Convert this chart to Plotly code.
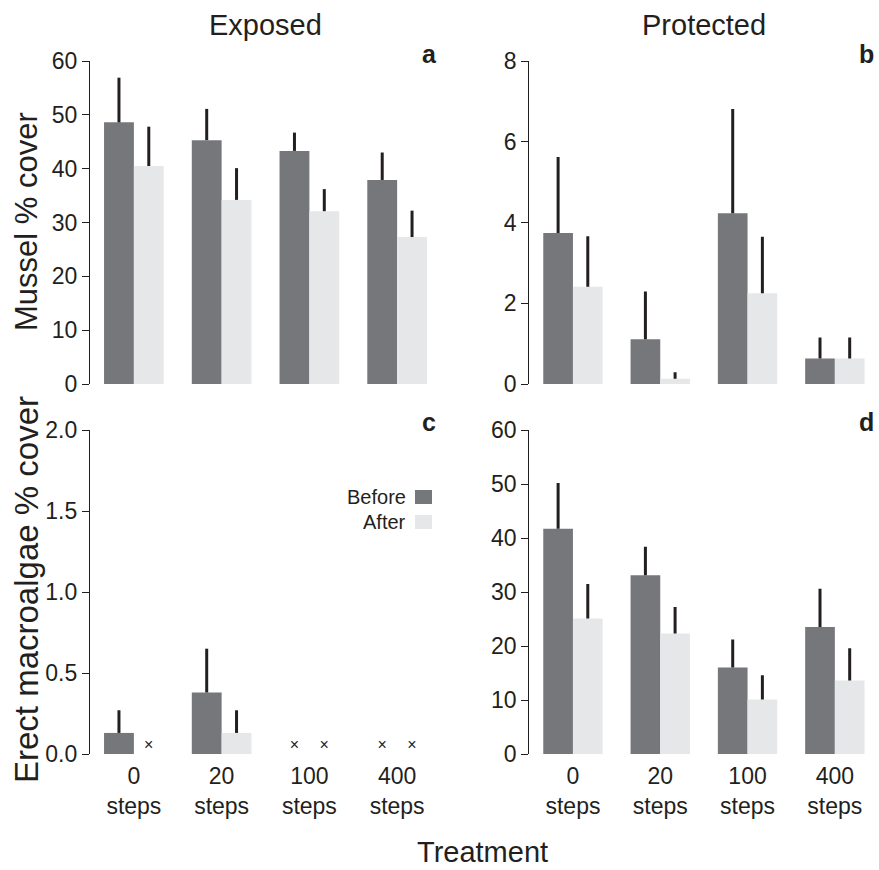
import plotly.graph_objects as go

# ---------------- data ----------------
treatments = ["0<br>steps", "20<br>steps", "100<br>steps", "400<br>steps"]
series_names = ["Before", "After"]

# Panel a: Mussel % cover, Exposed
mussel_exp_before = [48.6, 45.3, 43.3, 37.9]
mussel_exp_before_se = [8.3, 5.8, 3.4, 5.1]
mussel_exp_after = [40.5, 34.2, 32.1, 27.3]
mussel_exp_after_se = [7.3, 5.9, 4.1, 4.9]

# Panel b: Mussel % cover, Protected
mussel_pro_before = [3.74, 1.11, 4.23, 0.63]
mussel_pro_before_se = [1.88, 1.18, 2.58, 0.52]
mussel_pro_after = [2.41, 0.13, 2.25, 0.63]
mussel_pro_after_se = [1.25, 0.16, 1.40, 0.52]

# Panel c: Erect macroalgae % cover, Exposed (None = absent, shown as x)
algae_exp_before = [0.13, 0.38, None, None]
algae_exp_before_se = [0.14, 0.27, None, None]
algae_exp_after = [None, 0.13, None, None]
algae_exp_after_se = [None, 0.14, None, None]

# Panel d: Erect macroalgae % cover, Protected
algae_pro_before = [41.7, 33.1, 16.0, 23.5]
algae_pro_before_se = [8.5, 5.3, 5.2, 7.1]
algae_pro_after = [25.1, 22.3, 10.1, 13.6]
algae_pro_after_se = [6.4, 4.9, 4.5, 6.0]

# ---------------- style ----------------
W, H = 879, 870
INK = "#231f20"
COL_BEFORE = "#76777b"
COL_AFTER = "#e6e7e9"
FONT = "Liberation Sans, Arial, Helvetica, sans-serif"
BAR_GAP = 0.32
positions = list(range(len(treatments)))


def fx(p):
    return p / W


def fy(p):
    return 1 - p / H


fig = go.Figure()

panels = [
    ("x", "y", mussel_exp_before, mussel_exp_before_se, mussel_exp_after, mussel_exp_after_se),
    ("x2", "y2", mussel_pro_before, mussel_pro_before_se, mussel_pro_after, mussel_pro_after_se),
    ("x3", "y3", algae_exp_before, algae_exp_before_se, algae_exp_after, algae_exp_after_se),
    ("x4", "y4", algae_pro_before, algae_pro_before_se, algae_pro_after, algae_pro_after_se),
]

half = (1 - BAR_GAP) / 4  # offset of each bar centre from the group centre
for xa, ya, bvals, bse, avals, ase in panels:
    for name, vals, se, col, sign in [
        ("Before", bvals, bse, COL_BEFORE, -1),
        ("After", avals, ase, COL_AFTER, 1),
    ]:
        fig.add_trace(go.Bar(
            x=positions, y=vals, name=name, xaxis=xa, yaxis=ya,
            marker=dict(color=col, line=dict(width=0)),
            offsetgroup=name, showlegend=False,
            error_y=dict(type="data", symmetric=False,
                         array=[s if s is not None else 0 for s in se],
                         arrayminus=[0] * len(se),
                         width=0, thickness=3, color=INK),
        ))
        # absent values are marked with a small cross at the baseline
        missing = [i for i, v in enumerate(vals) if v is None]
        if missing:
            fig.add_trace(go.Scatter(
                x=[positions[i] + sign * half for i in missing],
                y=[0] * len(missing),
                mode="text", text=["×"] * len(missing),
                textposition="top center",
                textfont=dict(family=FONT, size=16, color=INK),
                xaxis=xa, yaxis=ya, showlegend=False, hoverinfo="skip",
            ))

xdom_left = [fx(90), fx(441)]
xdom_right = [fx(529.3), fx(878.5)]
ydom_top = [fy(384), fy(61)]
ydom_bot = [fy(754), fy(430)]

common_x = dict(range=[-0.5, len(treatments) - 0.5], showline=False, ticks="",
                showgrid=False, zeroline=False, tickvals=positions,
                ticktext=treatments, tickfont=dict(family=FONT, size=23, color=INK),
                automargin=False)
common_y = dict(showline=True, linecolor=INK, linewidth=1.3, ticks="outside",
                ticklen=7, tickwidth=1.3, tickcolor=INK, showgrid=False,
                zeroline=False, tickfont=dict(family=FONT, size=23, color=INK),
                automargin=False)

fig.update_layout(
    width=W, height=H,
    margin=dict(l=0, r=0, t=0, b=0),
    paper_bgcolor="white", plot_bgcolor="white",
    barmode="group", bargap=BAR_GAP, bargroupgap=0,
    font=dict(family=FONT, color=INK),
    showlegend=False,
    xaxis=dict(domain=xdom_left, anchor="y", showticklabels=False, **common_x),
    xaxis2=dict(domain=xdom_right, anchor="y2", showticklabels=False, **common_x),
    xaxis3=dict(domain=xdom_left, anchor="y3", ticklabelstandoff=6, **common_x),
    xaxis4=dict(domain=xdom_right, anchor="y4", ticklabelstandoff=6, **common_x),
    yaxis=dict(domain=ydom_top, anchor="x", range=[0, 60], tickvals=[0, 10, 20, 30, 40, 50, 60], **common_y),
    yaxis2=dict(domain=ydom_top, anchor="x2", range=[0, 8], tickvals=[0, 2, 4, 6, 8], **common_y),
    yaxis3=dict(domain=ydom_bot, anchor="x3", range=[0, 2], tickvals=[0, 0.5, 1, 1.5, 2],
                tickformat=".1f", **common_y),
    yaxis4=dict(domain=ydom_bot, anchor="x4", range=[0, 60], tickvals=[0, 10, 20, 30, 40, 50, 60], **common_y),
)

annotations = [
    dict(text="Exposed", x=fx(265), y=fy(25), font=dict(size=29)),
    dict(text="Protected", x=fx(704), y=fy(25), font=dict(size=29)),
    dict(text="Mussel % cover", x=fx(26), y=fy(222), textangle=-90, font=dict(size=31)),
    dict(text="Erect macroalgae % cover", x=fx(26), y=fy(590), textangle=-90, font=dict(size=33)),
    dict(text="Treatment", x=fx(482), y=fy(852), font=dict(size=29)),
    dict(text="<b>a</b>", x=fx(429), y=fy(54), font=dict(size=25)),
    dict(text="<b>b</b>", x=fx(866), y=fy(54), font=dict(size=25)),
    dict(text="<b>c</b>", x=fx(429), y=fy(422), font=dict(size=25)),
    dict(text="<b>d</b>", x=fx(866), y=fy(422), font=dict(size=25)),
]
for a in annotations:
    a.update(xref="paper", yref="paper", showarrow=False, xanchor="center", yanchor="middle")
    a["font"].update(family=FONT, color=INK)

# legend in panel c: label to the left of a swatch
legend_rows = [("Before", COL_BEFORE, 497), ("After", COL_AFTER, 522)]
for name, col, yc in legend_rows:
    annotations.append(dict(text=name, x=fx(408), y=fy(yc), xref="paper", yref="paper",
                            showarrow=False, xanchor="right", yanchor="middle",
                            font=dict(family=FONT, size=20, color=INK)))
    fig.add_shape(type="rect", xref="paper", yref="paper",
                  x0=fx(415), x1=fx(432), y0=fy(yc + 7), y1=fy(yc - 7),
                  fillcolor=col, line=dict(width=0))

fig.update_layout(annotations=annotations)

fig.write_html("out.html", config={"displayModeBar": False},
               post_script="document.body.style.margin='0';document.body.style.overflow='hidden';")
